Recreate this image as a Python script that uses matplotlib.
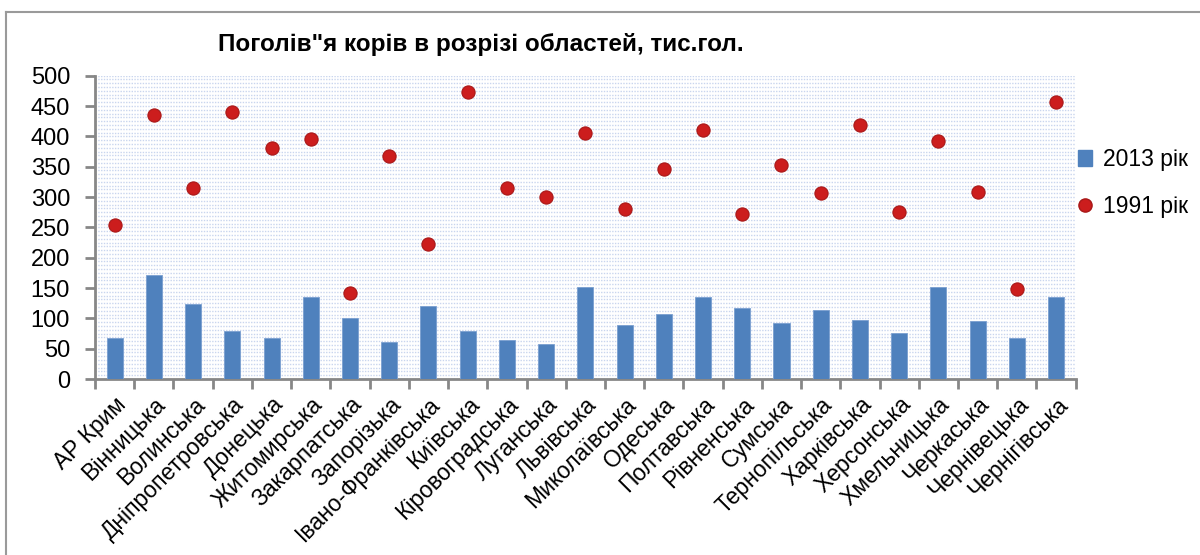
import matplotlib
matplotlib.use("Agg")
import matplotlib.pyplot as plt
import numpy as np
from matplotlib.lines import Line2D
from matplotlib.patches import Patch

plt.rcParams['font.family'] = ['Liberation Sans', 'DejaVu Sans']

regions = ["АР Крим", "Вінницька", "Волинська", "Дніпропетровська", "Донецька",
           "Житомирська", "Закарпатська", "Запорізька", "Івано-Франківська", "Київська",
           "Кіровоградська", "Луганська", "Львівська", "Миколаївська", "Одеська",
           "Полтавська", "Рівненська", "Сумська", "Тернопільська", "Харківська",
           "Херсонська", "Хмельницька", "Черкаська", "Чернівецька", "Чернігівська"]
cows_2013 = [67, 172, 123, 79, 67, 135, 101, 61, 120, 79,
             64, 58, 151, 89, 107, 135, 117, 92, 113, 97,
             76, 151, 95, 67, 135]
cows_1991 = [254, 436, 315, 440, 380, 396, 142, 368, 222, 473,
             315, 300, 405, 281, 346, 411, 272, 353, 306, 418,
             275, 393, 309, 148, 457]
title = 'Поголів"я корів в розрізі областей, тис.гол.'
label_2013 = "2013 рік"
label_1991 = "1991 рік"

fig = plt.figure(figsize=(12, 5.55), dpi=100)
ax = fig.add_axes([0.0792, 0.3171, 0.8172, 0.5465])

x = np.arange(len(regions))
axis_gray = '#878787'
grid_blue = '#c9d5ee'

ax.set_ylim(0, 500)
ax.set_xlim(-0.5, len(regions) - 0.5)
ax.set_yticks(np.arange(0, 501, 50))
ax.set_yticks(np.arange(0, 501, 6.25), minor=True)
ax.yaxis.grid(True, which='both', color=grid_blue, linestyle=(0, (1, 1)), linewidth=1.0)
ax.set_axisbelow(True)

ax.bar(x, cows_2013, width=0.41, color='#4f81bd', edgecolor='#7a9fd0', linewidth=0.6, zorder=3)
ax.plot(x, cows_1991, linestyle='none', marker='o', markersize=9.5,
        markerfacecolor='#cc1d1d', markeredgecolor='#a81818', markeredgewidth=0.8, zorder=4)

for s in ['top', 'right']:
    ax.spines[s].set_visible(False)
for s in ['left', 'bottom']:
    ax.spines[s].set_color(axis_gray)
    ax.spines[s].set_linewidth(2)

ax.tick_params(axis='y', which='major', length=7, width=2, color=axis_gray,
               labelsize=17, pad=11)
ax.tick_params(axis='y', which='minor', length=0)
ax.set_xticks(x)
ax.set_xticklabels(regions, rotation=45, ha='right', rotation_mode='anchor', fontsize=16.5)
ax.tick_params(axis='x', which='major', length=0, pad=10)
ax.set_xticks(np.arange(-0.5, len(regions), 1), minor=True)
ax.tick_params(axis='x', which='minor', length=7, width=2, color=axis_gray)

fig.text(0.401, 0.919, title, ha='center', va='center', fontsize=17.5, fontweight='bold')

handles = [Patch(facecolor='#4f81bd', edgecolor='#4f81bd'),
           Line2D([], [], linestyle='none', marker='o', markersize=9.5,
                  markerfacecolor='#cc1d1d', markeredgecolor='#a81818')]
fig.legend(handles, [label_2013, label_1991], loc='center left',
           bbox_to_anchor=(0.898, 0.67), frameon=False, fontsize=16.5,
           borderpad=0, borderaxespad=0,
           handlelength=0.65, handletextpad=0.45, labelspacing=1.05)

# outer chart border
fig.add_artist(Line2D([0.005, 0.005], [0.0, 0.978], transform=fig.transFigure,
                      color='#9a9a9a', linewidth=1.5))
fig.add_artist(Line2D([0.005, 1.0], [0.978, 0.978], transform=fig.transFigure,
                      color='#9a9a9a', linewidth=1.5))

fig.savefig('out.png', dpi=100)
